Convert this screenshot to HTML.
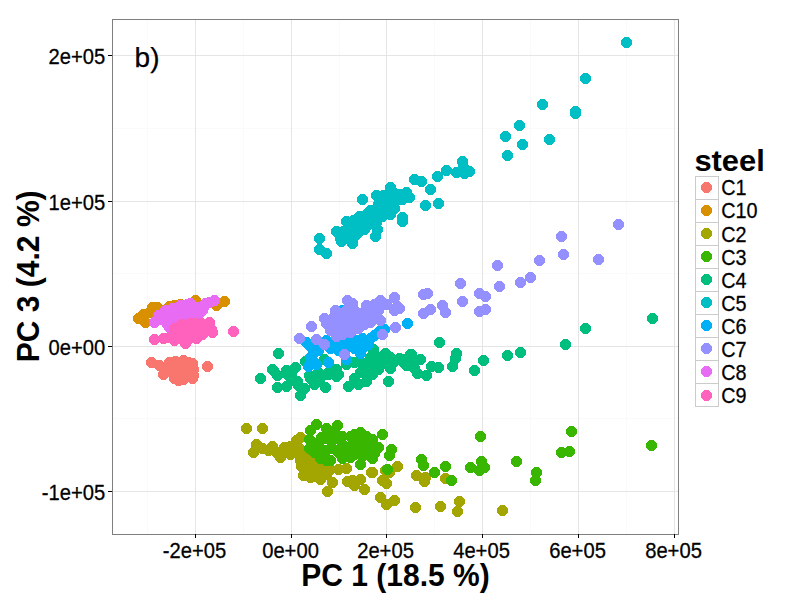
<!DOCTYPE html>
<html lang="en"><head><meta charset="utf-8"><title>PC 1 vs PC 3</title>
<style>html,body{margin:0;padding:0;background:#fff}body{width:800px;height:600px;overflow:hidden}svg{display:block}text{font-family:"Liberation Sans",Arial,sans-serif;fill:#000}.t{font-size:19.8px;stroke:#000;stroke-width:.25px}.b{font-size:30px;font-weight:bold}.l{font-size:28px;stroke:#000;stroke-width:.25px}</style></head><body>
<svg width="800" height="600" viewBox="0 0 800 600">
<rect width="800" height="600" fill="#fff"/>
<g stroke="#fafafa" stroke-width="1" shape-rendering="crispEdges">
<line x1="147.5" y1="19.5" x2="147.5" y2="534.5"/>
<line x1="243.5" y1="19.5" x2="243.5" y2="534.5"/>
<line x1="339.5" y1="19.5" x2="339.5" y2="534.5"/>
<line x1="434.5" y1="19.5" x2="434.5" y2="534.5"/>
<line x1="530.5" y1="19.5" x2="530.5" y2="534.5"/>
<line x1="626.5" y1="19.5" x2="626.5" y2="534.5"/>
<line x1="112.5" y1="128.5" x2="678.5" y2="128.5"/>
<line x1="112.5" y1="273.5" x2="678.5" y2="273.5"/>
<line x1="112.5" y1="418.5" x2="678.5" y2="418.5"/>
</g>
<g stroke="#e5e5e5" stroke-width="1" shape-rendering="crispEdges">
<line x1="195.5" y1="19.5" x2="195.5" y2="534.5"/>
<line x1="291.5" y1="19.5" x2="291.5" y2="534.5"/>
<line x1="386.5" y1="19.5" x2="386.5" y2="534.5"/>
<line x1="482.5" y1="19.5" x2="482.5" y2="534.5"/>
<line x1="578.5" y1="19.5" x2="578.5" y2="534.5"/>
<line x1="674.5" y1="19.5" x2="674.5" y2="534.5"/>
<line x1="112.5" y1="55.5" x2="678.5" y2="55.5"/>
<line x1="112.5" y1="201.5" x2="678.5" y2="201.5"/>
<line x1="112.5" y1="346.5" x2="678.5" y2="346.5"/>
<line x1="112.5" y1="491.5" x2="678.5" y2="491.5"/>
</g>
<g fill="#F8766D" shape-rendering="crispEdges">
<circle cx="151.5" cy="362.5" r="5.5"/>
<circle cx="159.5" cy="365.5" r="5.5"/>
<circle cx="163.5" cy="374.5" r="5.5"/>
<circle cx="169.5" cy="362.5" r="5.5"/>
<circle cx="170.5" cy="369.5" r="5.5"/>
<circle cx="174.5" cy="378.5" r="5.5"/>
<circle cx="176.5" cy="365.5" r="5.5"/>
<circle cx="180.5" cy="373.5" r="5.5"/>
<circle cx="183.5" cy="360.5" r="5.5"/>
<circle cx="183.5" cy="379.5" r="5.5"/>
<circle cx="187.5" cy="367.5" r="5.5"/>
<circle cx="191.5" cy="374.5" r="5.5"/>
<circle cx="192.5" cy="363.5" r="5.5"/>
<circle cx="192.5" cy="378.5" r="5.5"/>
<circle cx="193.5" cy="369.5" r="5.5"/>
<circle cx="167.5" cy="371.5" r="5.5"/>
<circle cx="178.5" cy="380.5" r="5.5"/>
<circle cx="207.5" cy="366.5" r="5.5"/>
<circle cx="175.5" cy="361.5" r="5.5"/>
<circle cx="188.5" cy="362.5" r="5.5"/>
<circle cx="193.5" cy="375.5" r="5.5"/>
</g>
<g fill="#D89000" shape-rendering="crispEdges">
<circle cx="138.5" cy="318.5" r="5.5"/>
<circle cx="143.5" cy="314.5" r="5.5"/>
<circle cx="145.5" cy="322.5" r="5.5"/>
<circle cx="152.5" cy="307.5" r="5.5"/>
<circle cx="157.5" cy="307.5" r="5.5"/>
<circle cx="149.5" cy="312.5" r="5.5"/>
<circle cx="169.5" cy="306.5" r="5.5"/>
<circle cx="174.5" cy="305.5" r="5.5"/>
<circle cx="180.5" cy="304.5" r="5.5"/>
<circle cx="195.5" cy="300.5" r="5.5"/>
<circle cx="224.5" cy="301.5" r="5.5"/>
<circle cx="216.5" cy="305.5" r="5.5"/>
</g>
<g fill="#A3A500" shape-rendering="crispEdges">
<circle cx="246.5" cy="428.5" r="5.5"/>
<circle cx="262.5" cy="428.5" r="5.5"/>
<circle cx="256.5" cy="444.5" r="5.5"/>
<circle cx="253.5" cy="452.5" r="5.5"/>
<circle cx="262.5" cy="448.5" r="5.5"/>
<circle cx="272.5" cy="446.5" r="5.5"/>
<circle cx="280.5" cy="457.5" r="5.5"/>
<circle cx="284.5" cy="447.5" r="5.5"/>
<circle cx="290.5" cy="446.5" r="5.5"/>
<circle cx="296.5" cy="440.5" r="5.5"/>
<circle cx="300.5" cy="437.5" r="5.5"/>
<circle cx="296.5" cy="452.5" r="5.5"/>
<circle cx="300.5" cy="460.5" r="5.5"/>
<circle cx="304.5" cy="468.5" r="5.5"/>
<circle cx="303.5" cy="475.5" r="5.5"/>
<circle cx="310.5" cy="470.5" r="5.5"/>
<circle cx="314.5" cy="476.5" r="5.5"/>
<circle cx="320.5" cy="479.5" r="5.5"/>
<circle cx="326.5" cy="474.5" r="5.5"/>
<circle cx="332.5" cy="482.5" r="5.5"/>
<circle cx="327.5" cy="491.5" r="5.5"/>
<circle cx="316.5" cy="466.5" r="5.5"/>
<circle cx="324.5" cy="468.5" r="5.5"/>
<circle cx="338.5" cy="469.5" r="5.5"/>
<circle cx="346.5" cy="468.5" r="5.5"/>
<circle cx="347.5" cy="481.5" r="5.5"/>
<circle cx="354.5" cy="485.5" r="5.5"/>
<circle cx="360.5" cy="479.5" r="5.5"/>
<circle cx="364.5" cy="489.5" r="5.5"/>
<circle cx="371.5" cy="472.5" r="5.5"/>
<circle cx="290.5" cy="454.5" r="5.5"/>
<circle cx="276.5" cy="452.5" r="5.5"/>
<circle cx="306.5" cy="456.5" r="5.5"/>
<circle cx="312.5" cy="460.5" r="5.5"/>
<circle cx="308.5" cy="464.5" r="5.5"/>
<circle cx="397.5" cy="466.5" r="5.5"/>
<circle cx="385.5" cy="470.5" r="5.5"/>
<circle cx="389.5" cy="472.5" r="5.5"/>
<circle cx="372.5" cy="472.5" r="5.5"/>
<circle cx="382.5" cy="480.5" r="5.5"/>
<circle cx="386.5" cy="483.5" r="5.5"/>
<circle cx="416.5" cy="475.5" r="5.5"/>
<circle cx="425.5" cy="477.5" r="5.5"/>
<circle cx="424.5" cy="481.5" r="5.5"/>
<circle cx="445.5" cy="478.5" r="5.5"/>
<circle cx="380.5" cy="497.5" r="5.5"/>
<circle cx="386.5" cy="504.5" r="5.5"/>
<circle cx="394.5" cy="500.5" r="5.5"/>
<circle cx="415.5" cy="507.5" r="5.5"/>
<circle cx="440.5" cy="506.5" r="5.5"/>
<circle cx="459.5" cy="501.5" r="5.5"/>
<circle cx="457.5" cy="511.5" r="5.5"/>
<circle cx="502.5" cy="510.5" r="5.5"/>
<circle cx="330.5" cy="469.5" r="5.5"/>
<circle cx="268.5" cy="450.5" r="5.5"/>
<circle cx="286.5" cy="452.5" r="5.5"/>
<circle cx="294.5" cy="446.5" r="5.5"/>
<circle cx="298.5" cy="447.5" r="5.5"/>
<circle cx="302.5" cy="452.5" r="5.5"/>
<circle cx="318.5" cy="472.5" r="5.5"/>
<circle cx="322.5" cy="475.5" r="5.5"/>
<circle cx="310.5" cy="477.5" r="5.5"/>
<circle cx="301.5" cy="466.5" r="5.5"/>
<circle cx="352.5" cy="480.5" r="5.5"/>
</g>
<g fill="#39B600" shape-rendering="crispEdges">
<circle cx="316.5" cy="424.5" r="5.5"/>
<circle cx="310.5" cy="430.5" r="5.5"/>
<circle cx="326.5" cy="428.5" r="5.5"/>
<circle cx="337.5" cy="425.5" r="5.5"/>
<circle cx="334.5" cy="432.5" r="5.5"/>
<circle cx="309.5" cy="439.5" r="5.5"/>
<circle cx="309.5" cy="448.5" r="5.5"/>
<circle cx="314.5" cy="452.5" r="5.5"/>
<circle cx="320.5" cy="458.5" r="5.5"/>
<circle cx="326.5" cy="460.5" r="5.5"/>
<circle cx="318.5" cy="442.5" r="5.5"/>
<circle cx="324.5" cy="438.5" r="5.5"/>
<circle cx="330.5" cy="440.5" r="5.5"/>
<circle cx="336.5" cy="438.5" r="5.5"/>
<circle cx="332.5" cy="448.5" r="5.5"/>
<circle cx="338.5" cy="452.5" r="5.5"/>
<circle cx="342.5" cy="444.5" r="5.5"/>
<circle cx="346.5" cy="456.5" r="5.5"/>
<circle cx="350.5" cy="436.5" r="5.5"/>
<circle cx="354.5" cy="434.5" r="5.5"/>
<circle cx="360.5" cy="432.5" r="5.5"/>
<circle cx="360.5" cy="440.5" r="5.5"/>
<circle cx="358.5" cy="448.5" r="5.5"/>
<circle cx="354.5" cy="454.5" r="5.5"/>
<circle cx="366.5" cy="436.5" r="5.5"/>
<circle cx="370.5" cy="440.5" r="5.5"/>
<circle cx="366.5" cy="452.5" r="5.5"/>
<circle cx="372.5" cy="456.5" r="5.5"/>
<circle cx="378.5" cy="447.5" r="5.5"/>
<circle cx="382.5" cy="434.5" r="5.5"/>
<circle cx="360.5" cy="464.5" r="5.5"/>
<circle cx="342.5" cy="458.5" r="5.5"/>
<circle cx="350.5" cy="446.5" r="5.5"/>
<circle cx="326.5" cy="450.5" r="5.5"/>
<circle cx="374.5" cy="450.5" r="5.5"/>
<circle cx="382.5" cy="434.5" r="5.5"/>
<circle cx="372.5" cy="439.5" r="5.5"/>
<circle cx="378.5" cy="447.5" r="5.5"/>
<circle cx="374.5" cy="453.5" r="5.5"/>
<circle cx="372.5" cy="458.5" r="5.5"/>
<circle cx="391.5" cy="449.5" r="5.5"/>
<circle cx="389.5" cy="455.5" r="5.5"/>
<circle cx="387.5" cy="469.5" r="5.5"/>
<circle cx="421.5" cy="459.5" r="5.5"/>
<circle cx="423.5" cy="465.5" r="5.5"/>
<circle cx="434.5" cy="472.5" r="5.5"/>
<circle cx="445.5" cy="466.5" r="5.5"/>
<circle cx="451.5" cy="480.5" r="5.5"/>
<circle cx="480.5" cy="436.5" r="5.5"/>
<circle cx="470.5" cy="467.5" r="5.5"/>
<circle cx="481.5" cy="461.5" r="5.5"/>
<circle cx="484.5" cy="467.5" r="5.5"/>
<circle cx="479.5" cy="470.5" r="5.5"/>
<circle cx="516.5" cy="461.5" r="5.5"/>
<circle cx="571.5" cy="431.5" r="5.5"/>
<circle cx="561.5" cy="452.5" r="5.5"/>
<circle cx="569.5" cy="451.5" r="5.5"/>
<circle cx="536.5" cy="472.5" r="5.5"/>
<circle cx="535.5" cy="480.5" r="5.5"/>
<circle cx="651.5" cy="445.5" r="5.5"/>
<circle cx="320.5" cy="448.5" r="5.5"/>
<circle cx="346.5" cy="450.5" r="5.5"/>
<circle cx="354.5" cy="443.5" r="5.5"/>
<circle cx="368.5" cy="446.5" r="5.5"/>
<circle cx="342.5" cy="436.5" r="5.5"/>
<circle cx="330.5" cy="460.5" r="5.5"/>
<circle cx="350.5" cy="457.5" r="5.5"/>
<circle cx="321.5" cy="437.5" r="5.5"/>
<circle cx="314.5" cy="444.5" r="5.5"/>
<circle cx="330.5" cy="432.5" r="5.5"/>
<circle cx="344.5" cy="451.5" r="5.5"/>
<circle cx="362.5" cy="456.5" r="5.5"/>
</g>
<g fill="#00BF7D" shape-rendering="crispEdges">
<circle cx="278.5" cy="353.5" r="5.5"/>
<circle cx="260.5" cy="378.5" r="5.5"/>
<circle cx="273.5" cy="370.5" r="5.5"/>
<circle cx="277.5" cy="375.5" r="5.5"/>
<circle cx="277.5" cy="387.5" r="5.5"/>
<circle cx="286.5" cy="370.5" r="5.5"/>
<circle cx="288.5" cy="375.5" r="5.5"/>
<circle cx="295.5" cy="367.5" r="5.5"/>
<circle cx="293.5" cy="380.5" r="5.5"/>
<circle cx="298.5" cy="385.5" r="5.5"/>
<circle cx="304.5" cy="388.5" r="5.5"/>
<circle cx="300.5" cy="395.5" r="5.5"/>
<circle cx="305.5" cy="361.5" r="5.5"/>
<circle cx="310.5" cy="378.5" r="5.5"/>
<circle cx="314.5" cy="384.5" r="5.5"/>
<circle cx="319.5" cy="380.5" r="5.5"/>
<circle cx="325.5" cy="387.5" r="5.5"/>
<circle cx="326.5" cy="374.5" r="5.5"/>
<circle cx="330.5" cy="370.5" r="5.5"/>
<circle cx="336.5" cy="369.5" r="5.5"/>
<circle cx="324.5" cy="359.5" r="5.5"/>
<circle cx="338.5" cy="374.5" r="5.5"/>
<circle cx="346.5" cy="364.5" r="5.5"/>
<circle cx="354.5" cy="362.5" r="5.5"/>
<circle cx="360.5" cy="361.5" r="5.5"/>
<circle cx="373.5" cy="349.5" r="5.5"/>
<circle cx="370.5" cy="357.5" r="5.5"/>
<circle cx="365.5" cy="366.5" r="5.5"/>
<circle cx="360.5" cy="372.5" r="5.5"/>
<circle cx="354.5" cy="378.5" r="5.5"/>
<circle cx="348.5" cy="386.5" r="5.5"/>
<circle cx="358.5" cy="384.5" r="5.5"/>
<circle cx="366.5" cy="381.5" r="5.5"/>
<circle cx="372.5" cy="374.5" r="5.5"/>
<circle cx="378.5" cy="369.5" r="5.5"/>
<circle cx="375.5" cy="363.5" r="5.5"/>
<circle cx="380.5" cy="357.5" r="5.5"/>
<circle cx="385.5" cy="353.5" r="5.5"/>
<circle cx="390.5" cy="357.5" r="5.5"/>
<circle cx="394.5" cy="361.5" r="5.5"/>
<circle cx="399.5" cy="358.5" r="5.5"/>
<circle cx="403.5" cy="362.5" r="5.5"/>
<circle cx="406.5" cy="365.5" r="5.5"/>
<circle cx="410.5" cy="354.5" r="5.5"/>
<circle cx="388.5" cy="381.5" r="5.5"/>
<circle cx="390.5" cy="368.5" r="5.5"/>
<circle cx="439.5" cy="342.5" r="5.5"/>
<circle cx="411.5" cy="354.5" r="5.5"/>
<circle cx="420.5" cy="359.5" r="5.5"/>
<circle cx="404.5" cy="359.5" r="5.5"/>
<circle cx="408.5" cy="364.5" r="5.5"/>
<circle cx="414.5" cy="368.5" r="5.5"/>
<circle cx="417.5" cy="373.5" r="5.5"/>
<circle cx="426.5" cy="375.5" r="5.5"/>
<circle cx="431.5" cy="366.5" r="5.5"/>
<circle cx="438.5" cy="367.5" r="5.5"/>
<circle cx="452.5" cy="366.5" r="5.5"/>
<circle cx="455.5" cy="358.5" r="5.5"/>
<circle cx="456.5" cy="353.5" r="5.5"/>
<circle cx="474.5" cy="370.5" r="5.5"/>
<circle cx="483.5" cy="360.5" r="5.5"/>
<circle cx="507.5" cy="355.5" r="5.5"/>
<circle cx="520.5" cy="352.5" r="5.5"/>
<circle cx="652.5" cy="318.5" r="5.5"/>
<circle cx="585.5" cy="328.5" r="5.5"/>
<circle cx="565.5" cy="344.5" r="5.5"/>
<circle cx="413.5" cy="361.5" r="5.5"/>
<circle cx="286.5" cy="386.5" r="5.5"/>
<circle cx="309.5" cy="375.5" r="5.5"/>
<circle cx="328.5" cy="374.5" r="5.5"/>
<circle cx="332.5" cy="369.5" r="5.5"/>
<circle cx="336.5" cy="376.5" r="5.5"/>
<circle cx="318.5" cy="372.5" r="5.5"/>
<circle cx="272.5" cy="369.5" r="5.5"/>
<circle cx="291.5" cy="375.5" r="5.5"/>
<circle cx="297.5" cy="381.5" r="5.5"/>
<circle cx="366.5" cy="372.5" r="5.5"/>
<circle cx="384.5" cy="363.5" r="5.5"/>
<circle cx="372.5" cy="368.5" r="5.5"/>
</g>
<g fill="#00BFC4" shape-rendering="crispEdges">
<circle cx="319.5" cy="238.5" r="5.5"/>
<circle cx="319.5" cy="249.5" r="5.5"/>
<circle cx="326.5" cy="253.5" r="5.5"/>
<circle cx="336.5" cy="231.5" r="5.5"/>
<circle cx="340.5" cy="238.5" r="5.5"/>
<circle cx="341.5" cy="241.5" r="5.5"/>
<circle cx="352.5" cy="243.5" r="5.5"/>
<circle cx="346.5" cy="236.5" r="5.5"/>
<circle cx="346.5" cy="221.5" r="5.5"/>
<circle cx="350.5" cy="230.5" r="5.5"/>
<circle cx="356.5" cy="226.5" r="5.5"/>
<circle cx="358.5" cy="232.5" r="5.5"/>
<circle cx="362.5" cy="219.5" r="5.5"/>
<circle cx="362.5" cy="199.5" r="5.5"/>
<circle cx="366.5" cy="214.5" r="5.5"/>
<circle cx="368.5" cy="224.5" r="5.5"/>
<circle cx="370.5" cy="210.5" r="5.5"/>
<circle cx="372.5" cy="218.5" r="5.5"/>
<circle cx="375.5" cy="236.5" r="5.5"/>
<circle cx="377.5" cy="229.5" r="5.5"/>
<circle cx="376.5" cy="195.5" r="5.5"/>
<circle cx="378.5" cy="204.5" r="5.5"/>
<circle cx="380.5" cy="210.5" r="5.5"/>
<circle cx="382.5" cy="216.5" r="5.5"/>
<circle cx="386.5" cy="200.5" r="5.5"/>
<circle cx="388.5" cy="208.5" r="5.5"/>
<circle cx="390.5" cy="214.5" r="5.5"/>
<circle cx="390.5" cy="187.5" r="5.5"/>
<circle cx="394.5" cy="193.5" r="5.5"/>
<circle cx="396.5" cy="200.5" r="5.5"/>
<circle cx="394.5" cy="208.5" r="5.5"/>
<circle cx="400.5" cy="194.5" r="5.5"/>
<circle cx="402.5" cy="199.5" r="5.5"/>
<circle cx="402.5" cy="217.5" r="5.5"/>
<circle cx="402.5" cy="221.5" r="5.5"/>
<circle cx="406.5" cy="192.5" r="5.5"/>
<circle cx="409.5" cy="197.5" r="5.5"/>
<circle cx="414.5" cy="179.5" r="5.5"/>
<circle cx="421.5" cy="181.5" r="5.5"/>
<circle cx="360.5" cy="228.5" r="5.5"/>
<circle cx="364.5" cy="229.5" r="5.5"/>
<circle cx="354.5" cy="236.5" r="5.5"/>
<circle cx="343.5" cy="231.5" r="5.5"/>
<circle cx="353.5" cy="220.5" r="5.5"/>
<circle cx="359.5" cy="216.5" r="5.5"/>
<circle cx="376.5" cy="222.5" r="5.5"/>
<circle cx="542.5" cy="104.5" r="5.5"/>
<circle cx="575.5" cy="112.5" r="5.5"/>
<circle cx="519.5" cy="125.5" r="5.5"/>
<circle cx="505.5" cy="136.5" r="5.5"/>
<circle cx="522.5" cy="144.5" r="5.5"/>
<circle cx="549.5" cy="139.5" r="5.5"/>
<circle cx="507.5" cy="155.5" r="5.5"/>
<circle cx="462.5" cy="161.5" r="5.5"/>
<circle cx="463.5" cy="167.5" r="5.5"/>
<circle cx="469.5" cy="171.5" r="5.5"/>
<circle cx="464.5" cy="173.5" r="5.5"/>
<circle cx="456.5" cy="172.5" r="5.5"/>
<circle cx="446.5" cy="170.5" r="5.5"/>
<circle cx="437.5" cy="176.5" r="5.5"/>
<circle cx="430.5" cy="189.5" r="5.5"/>
<circle cx="425.5" cy="205.5" r="5.5"/>
<circle cx="438.5" cy="203.5" r="5.5"/>
<circle cx="626.5" cy="42.5" r="5.5"/>
<circle cx="585.5" cy="78.5" r="5.5"/>
<circle cx="575.5" cy="111.5" r="5.5"/>
<circle cx="575.5" cy="113.5" r="5.5"/>
<circle cx="387.5" cy="194.5" r="5.5"/>
<circle cx="391.5" cy="202.5" r="5.5"/>
<circle cx="376.5" cy="213.5" r="5.5"/>
<circle cx="383.5" cy="195.5" r="5.5"/>
</g>
<g fill="#00B0F6" shape-rendering="crispEdges">
<circle cx="407.5" cy="323.5" r="5.5"/>
<circle cx="310.5" cy="357.5" r="5.5"/>
<circle cx="308.5" cy="366.5" r="5.5"/>
<circle cx="316.5" cy="364.5" r="5.5"/>
<circle cx="328.5" cy="362.5" r="5.5"/>
<circle cx="346.5" cy="359.5" r="5.5"/>
<circle cx="360.5" cy="353.5" r="5.5"/>
<circle cx="362.5" cy="348.5" r="5.5"/>
<circle cx="368.5" cy="344.5" r="5.5"/>
<circle cx="370.5" cy="338.5" r="5.5"/>
<circle cx="378.5" cy="332.5" r="5.5"/>
<circle cx="384.5" cy="329.5" r="5.5"/>
<circle cx="306.5" cy="342.5" r="5.5"/>
<circle cx="310.5" cy="346.5" r="5.5"/>
<circle cx="318.5" cy="350.5" r="5.5"/>
<circle cx="330.5" cy="348.5" r="5.5"/>
<circle cx="336.5" cy="346.5" r="5.5"/>
<circle cx="350.5" cy="342.5" r="5.5"/>
<circle cx="356.5" cy="340.5" r="5.5"/>
<circle cx="362.5" cy="338.5" r="5.5"/>
<circle cx="338.5" cy="350.5" r="5.5"/>
<circle cx="354.5" cy="348.5" r="5.5"/>
<circle cx="326.5" cy="340.5" r="5.5"/>
<circle cx="342.5" cy="310.5" r="5.5"/>
<circle cx="372.5" cy="320.5" r="5.5"/>
<circle cx="340.5" cy="344.5" r="5.5"/>
<circle cx="346.5" cy="348.5" r="5.5"/>
<circle cx="364.5" cy="342.5" r="5.5"/>
<circle cx="344.5" cy="340.5" r="5.5"/>
<circle cx="314.5" cy="352.5" r="5.5"/>
<circle cx="312.5" cy="360.5" r="5.5"/>
<circle cx="332.5" cy="344.5" r="5.5"/>
<circle cx="358.5" cy="344.5" r="5.5"/>
<circle cx="374.5" cy="335.5" r="5.5"/>
<circle cx="380.5" cy="330.5" r="5.5"/>
</g>
<g fill="#9590FF" shape-rendering="crispEdges">
<circle cx="311.5" cy="326.5" r="5.5"/>
<circle cx="299.5" cy="338.5" r="5.5"/>
<circle cx="316.5" cy="339.5" r="5.5"/>
<circle cx="324.5" cy="344.5" r="5.5"/>
<circle cx="344.5" cy="354.5" r="5.5"/>
<circle cx="382.5" cy="334.5" r="5.5"/>
<circle cx="395.5" cy="327.5" r="5.5"/>
<circle cx="380.5" cy="320.5" r="5.5"/>
<circle cx="394.5" cy="310.5" r="5.5"/>
<circle cx="397.5" cy="306.5" r="5.5"/>
<circle cx="394.5" cy="297.5" r="5.5"/>
<circle cx="380.5" cy="300.5" r="5.5"/>
<circle cx="374.5" cy="304.5" r="5.5"/>
<circle cx="366.5" cy="305.5" r="5.5"/>
<circle cx="347.5" cy="300.5" r="5.5"/>
<circle cx="352.5" cy="303.5" r="5.5"/>
<circle cx="335.5" cy="310.5" r="5.5"/>
<circle cx="338.5" cy="314.5" r="5.5"/>
<circle cx="324.5" cy="318.5" r="5.5"/>
<circle cx="328.5" cy="322.5" r="5.5"/>
<circle cx="330.5" cy="330.5" r="5.5"/>
<circle cx="336.5" cy="336.5" r="5.5"/>
<circle cx="342.5" cy="334.5" r="5.5"/>
<circle cx="350.5" cy="332.5" r="5.5"/>
<circle cx="358.5" cy="328.5" r="5.5"/>
<circle cx="364.5" cy="324.5" r="5.5"/>
<circle cx="370.5" cy="322.5" r="5.5"/>
<circle cx="346.5" cy="320.5" r="5.5"/>
<circle cx="354.5" cy="316.5" r="5.5"/>
<circle cx="362.5" cy="314.5" r="5.5"/>
<circle cx="340.5" cy="324.5" r="5.5"/>
<circle cx="356.5" cy="324.5" r="5.5"/>
<circle cx="370.5" cy="312.5" r="5.5"/>
<circle cx="378.5" cy="310.5" r="5.5"/>
<circle cx="386.5" cy="304.5" r="5.5"/>
<circle cx="346.5" cy="310.5" r="5.5"/>
<circle cx="354.5" cy="310.5" r="5.5"/>
<circle cx="332.5" cy="318.5" r="5.5"/>
<circle cx="423.5" cy="294.5" r="5.5"/>
<circle cx="427.5" cy="293.5" r="5.5"/>
<circle cx="430.5" cy="309.5" r="5.5"/>
<circle cx="423.5" cy="313.5" r="5.5"/>
<circle cx="399.5" cy="308.5" r="5.5"/>
<circle cx="561.5" cy="236.5" r="5.5"/>
<circle cx="563.5" cy="254.5" r="5.5"/>
<circle cx="598.5" cy="259.5" r="5.5"/>
<circle cx="539.5" cy="260.5" r="5.5"/>
<circle cx="530.5" cy="277.5" r="5.5"/>
<circle cx="520.5" cy="282.5" r="5.5"/>
<circle cx="497.5" cy="265.5" r="5.5"/>
<circle cx="499.5" cy="286.5" r="5.5"/>
<circle cx="460.5" cy="283.5" r="5.5"/>
<circle cx="479.5" cy="293.5" r="5.5"/>
<circle cx="485.5" cy="296.5" r="5.5"/>
<circle cx="462.5" cy="301.5" r="5.5"/>
<circle cx="479.5" cy="311.5" r="5.5"/>
<circle cx="485.5" cy="309.5" r="5.5"/>
<circle cx="442.5" cy="305.5" r="5.5"/>
<circle cx="445.5" cy="312.5" r="5.5"/>
<circle cx="618.5" cy="224.5" r="5.5"/>
<circle cx="334.5" cy="326.5" r="5.5"/>
<circle cx="344.5" cy="328.5" r="5.5"/>
<circle cx="338.5" cy="330.5" r="5.5"/>
<circle cx="350.5" cy="326.5" r="5.5"/>
<circle cx="374.5" cy="316.5" r="5.5"/>
<circle cx="362.5" cy="320.5" r="5.5"/>
<circle cx="368.5" cy="316.5" r="5.5"/>
<circle cx="326.5" cy="323.5" r="5.5"/>
<circle cx="341.5" cy="317.5" r="5.5"/>
<circle cx="358.5" cy="320.5" r="5.5"/>
<circle cx="365.5" cy="310.5" r="5.5"/>
</g>
<g fill="#E76BF3" shape-rendering="crispEdges">
<circle cx="154.5" cy="322.5" r="5.5"/>
<circle cx="158.5" cy="315.5" r="5.5"/>
<circle cx="159.5" cy="319.5" r="5.5"/>
<circle cx="165.5" cy="310.5" r="5.5"/>
<circle cx="167.5" cy="324.5" r="5.5"/>
<circle cx="170.5" cy="316.5" r="5.5"/>
<circle cx="172.5" cy="308.5" r="5.5"/>
<circle cx="178.5" cy="312.5" r="5.5"/>
<circle cx="180.5" cy="305.5" r="5.5"/>
<circle cx="183.5" cy="317.5" r="5.5"/>
<circle cx="185.5" cy="308.5" r="5.5"/>
<circle cx="190.5" cy="303.5" r="5.5"/>
<circle cx="191.5" cy="312.5" r="5.5"/>
<circle cx="196.5" cy="307.5" r="5.5"/>
<circle cx="198.5" cy="314.5" r="5.5"/>
<circle cx="202.5" cy="310.5" r="5.5"/>
<circle cx="205.5" cy="303.5" r="5.5"/>
<circle cx="209.5" cy="302.5" r="5.5"/>
<circle cx="214.5" cy="300.5" r="5.5"/>
<circle cx="203.5" cy="307.5" r="5.5"/>
<circle cx="176.5" cy="319.5" r="5.5"/>
<circle cx="163.5" cy="317.5" r="5.5"/>
<circle cx="169.5" cy="327.5" r="5.5"/>
<circle cx="187.5" cy="304.5" r="5.5"/>
<circle cx="180.5" cy="309.5" r="5.5"/>
<circle cx="192.5" cy="306.5" r="5.5"/>
</g>
<g fill="#FF62BC" shape-rendering="crispEdges">
<circle cx="154.5" cy="339.5" r="5.5"/>
<circle cx="163.5" cy="338.5" r="5.5"/>
<circle cx="169.5" cy="337.5" r="5.5"/>
<circle cx="174.5" cy="340.5" r="5.5"/>
<circle cx="174.5" cy="328.5" r="5.5"/>
<circle cx="180.5" cy="325.5" r="5.5"/>
<circle cx="180.5" cy="334.5" r="5.5"/>
<circle cx="185.5" cy="343.5" r="5.5"/>
<circle cx="185.5" cy="330.5" r="5.5"/>
<circle cx="189.5" cy="338.5" r="5.5"/>
<circle cx="194.5" cy="323.5" r="5.5"/>
<circle cx="194.5" cy="332.5" r="5.5"/>
<circle cx="196.5" cy="338.5" r="5.5"/>
<circle cx="202.5" cy="327.5" r="5.5"/>
<circle cx="202.5" cy="334.5" r="5.5"/>
<circle cx="209.5" cy="322.5" r="5.5"/>
<circle cx="211.5" cy="329.5" r="5.5"/>
<circle cx="212.5" cy="332.5" r="5.5"/>
<circle cx="205.5" cy="330.5" r="5.5"/>
<circle cx="233.5" cy="331.5" r="5.5"/>
<circle cx="183.5" cy="340.5" r="5.5"/>
<circle cx="176.5" cy="338.5" r="5.5"/>
<circle cx="187.5" cy="324.5" r="5.5"/>
<circle cx="189.5" cy="329.5" r="5.5"/>
<circle cx="181.5" cy="324.5" r="5.5"/>
<circle cx="190.5" cy="323.5" r="5.5"/>
<circle cx="201.5" cy="323.5" r="5.5"/>
</g>
<rect x="112.5" y="19.5" width="566.0" height="515.0" fill="none" stroke="#7f7f7f" stroke-width="1" shape-rendering="crispEdges"/>
<g stroke="#000" stroke-width="1" shape-rendering="crispEdges">
<line x1="195.5" y1="534.0" x2="195.5" y2="538.0"/>
<line x1="291.5" y1="534.0" x2="291.5" y2="538.0"/>
<line x1="386.5" y1="534.0" x2="386.5" y2="538.0"/>
<line x1="482.5" y1="534.0" x2="482.5" y2="538.0"/>
<line x1="578.5" y1="534.0" x2="578.5" y2="538.0"/>
<line x1="674.5" y1="534.0" x2="674.5" y2="538.0"/>
<line x1="108.0" y1="55.5" x2="112.0" y2="55.5"/>
<line x1="108.0" y1="201.5" x2="112.0" y2="201.5"/>
<line x1="108.0" y1="346.5" x2="112.0" y2="346.5"/>
<line x1="108.0" y1="491.5" x2="112.0" y2="491.5"/>
</g>
<text class="t" transform="translate(194.50,558.00) scale(1.02,1.07)" text-anchor="middle">-2e+05</text>
<text class="t" transform="translate(290.50,558.00) scale(1.02,1.07)" text-anchor="middle">0e+00</text>
<text class="t" transform="translate(385.50,558.00) scale(1.02,1.07)" text-anchor="middle">2e+05</text>
<text class="t" transform="translate(481.50,558.00) scale(1.02,1.07)" text-anchor="middle">4e+05</text>
<text class="t" transform="translate(577.50,558.00) scale(1.02,1.07)" text-anchor="middle">6e+05</text>
<text class="t" transform="translate(673.50,558.00) scale(1.02,1.07)" text-anchor="middle">8e+05</text>
<text class="t" transform="translate(105.20,64.00) scale(1.02,1.07)" text-anchor="end">2e+05</text>
<text class="t" transform="translate(105.20,210.00) scale(1.02,1.07)" text-anchor="end">1e+05</text>
<text class="t" transform="translate(105.20,355.00) scale(1.02,1.07)" text-anchor="end">0e+00</text>
<text class="t" transform="translate(105.20,500.00) scale(1.02,1.07)" text-anchor="end">-1e+05</text>
<text class="b" transform="translate(395.50,586.00) scale(1.0,1.06)" text-anchor="middle">PC 1 (18.5 %)</text>
<text class="b" transform="translate(38.90,276.30) rotate(-90) scale(1.0,1.06)" text-anchor="middle">PC 3 (4.2 %)</text>
<text class="l" transform="translate(134.60,67.20)">b)</text>
<text class="b" transform="translate(694.40,171.00) scale(1.03,1.0)">steel</text>
<rect x="695.5" y="176.5" width="23" height="23.0" fill="#fff" stroke="#cccccc" stroke-width="1" shape-rendering="crispEdges"/>
<circle cx="706.5" cy="187.5" r="5.5" fill="#F8766D" shape-rendering="crispEdges"/>
<text class="t" transform="translate(721.30,195.42) scale(1.0,1.07)">C1</text>
<rect x="695.5" y="199.5" width="23" height="23.0" fill="#fff" stroke="#cccccc" stroke-width="1" shape-rendering="crispEdges"/>
<circle cx="706.5" cy="210.5" r="5.5" fill="#D89000" shape-rendering="crispEdges"/>
<text class="t" transform="translate(721.30,218.46) scale(1.0,1.07)">C10</text>
<rect x="695.5" y="222.5" width="23" height="23.0" fill="#fff" stroke="#cccccc" stroke-width="1" shape-rendering="crispEdges"/>
<circle cx="706.5" cy="233.5" r="5.5" fill="#A3A500" shape-rendering="crispEdges"/>
<text class="t" transform="translate(721.30,241.50) scale(1.0,1.07)">C2</text>
<rect x="695.5" y="245.5" width="23" height="23.0" fill="#fff" stroke="#cccccc" stroke-width="1" shape-rendering="crispEdges"/>
<circle cx="706.5" cy="256.5" r="5.5" fill="#39B600" shape-rendering="crispEdges"/>
<text class="t" transform="translate(721.30,264.54) scale(1.0,1.07)">C3</text>
<rect x="695.5" y="268.5" width="23" height="23.0" fill="#fff" stroke="#cccccc" stroke-width="1" shape-rendering="crispEdges"/>
<circle cx="706.5" cy="279.5" r="5.5" fill="#00BF7D" shape-rendering="crispEdges"/>
<text class="t" transform="translate(721.30,287.58) scale(1.0,1.07)">C4</text>
<rect x="695.5" y="291.5" width="23" height="23.0" fill="#fff" stroke="#cccccc" stroke-width="1" shape-rendering="crispEdges"/>
<circle cx="706.5" cy="302.5" r="5.5" fill="#00BFC4" shape-rendering="crispEdges"/>
<text class="t" transform="translate(721.30,310.62) scale(1.0,1.07)">C5</text>
<rect x="695.5" y="314.5" width="23" height="23.0" fill="#fff" stroke="#cccccc" stroke-width="1" shape-rendering="crispEdges"/>
<circle cx="706.5" cy="325.5" r="5.5" fill="#00B0F6" shape-rendering="crispEdges"/>
<text class="t" transform="translate(721.30,333.66) scale(1.0,1.07)">C6</text>
<rect x="695.5" y="337.5" width="23" height="23.0" fill="#fff" stroke="#cccccc" stroke-width="1" shape-rendering="crispEdges"/>
<circle cx="706.5" cy="348.5" r="5.5" fill="#9590FF" shape-rendering="crispEdges"/>
<text class="t" transform="translate(721.30,356.70) scale(1.0,1.07)">C7</text>
<rect x="695.5" y="360.5" width="23" height="23.0" fill="#fff" stroke="#cccccc" stroke-width="1" shape-rendering="crispEdges"/>
<circle cx="706.5" cy="371.5" r="5.5" fill="#E76BF3" shape-rendering="crispEdges"/>
<text class="t" transform="translate(721.30,379.74) scale(1.0,1.07)">C8</text>
<rect x="695.5" y="383.5" width="23" height="23.0" fill="#fff" stroke="#cccccc" stroke-width="1" shape-rendering="crispEdges"/>
<circle cx="706.5" cy="395.5" r="5.5" fill="#FF62BC" shape-rendering="crispEdges"/>
<text class="t" transform="translate(721.30,402.78) scale(1.0,1.07)">C9</text>
</svg></body></html>
